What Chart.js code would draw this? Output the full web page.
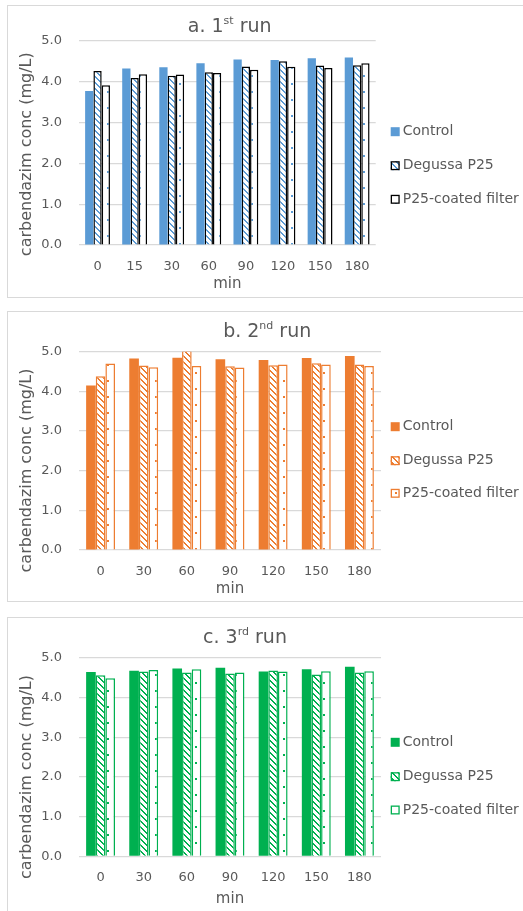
<!DOCTYPE html>
<html><head><meta charset="utf-8">
<script src="https://cdn.jsdelivr.net/npm/chart.js@4/dist/chart.umd.min.js"></script>
<style>
html,body{margin:0;padding:0;background:#fff;overflow:hidden;width:523px;height:911px;position:relative;}
.frame{position:absolute;left:7px;width:600px;border:1.5px solid #d9d9d9;box-sizing:border-box;}
canvas{position:absolute;left:0;}
</style></head><body>
<div class="frame" style="top:5px;height:292.5px"></div>
<div class="frame" style="top:310.5px;height:291.5px"></div>
<div class="frame" style="top:616.5px;height:400px"></div>
<canvas id="c1" width="523" height="297" style="top:0px"></canvas>
<canvas id="c2" width="523" height="297" style="top:305px"></canvas>
<canvas id="c3" width="523" height="297" style="top:615px"></canvas>
<script>
// ---- data ----
const seriesNames = ['Control', 'Degussa P25', 'P25-coated filter'];
const minutes1 = ['0', '15', '30', '60', '90', '120', '150', '180'];
const control1 = [3.77, 4.32, 4.35, 4.45, 4.54, 4.53, 4.57, 4.59];
const degussa1 = [4.26, 4.09, 4.14, 4.23, 4.37, 4.50, 4.39, 4.40];
const filter1  = [3.91, 4.18, 4.17, 4.21, 4.29, 4.36, 4.33, 4.45];

const minutes23 = ['0', '30', '60', '90', '120', '150', '180'];
const control2 = [4.15, 4.83, 4.85, 4.81, 4.79, 4.84, 4.89];
const degussa2 = [4.38, 4.65, 5.03, 4.63, 4.66, 4.71, 4.68];
const filter2  = [4.70, 4.61, 4.64, 4.60, 4.68, 4.68, 4.64];

const control3 = [4.64, 4.67, 4.73, 4.75, 4.65, 4.71, 4.77];
const degussa3 = [4.56, 4.65, 4.63, 4.60, 4.68, 4.58, 4.63];
const filter3  = [4.48, 4.69, 4.71, 4.63, 4.65, 4.66, 4.66];

const yMin = 0, yMax = 5, yStep = 1;
const titles = [['a. 1', 'st', ' run'], ['b. 2', 'nd', ' run'], ['c. 3', 'rd', ' run']];

// ---- styling helpers ----
const FONT = '"DejaVu Sans", Verdana, sans-serif';
const TXT = '#595959';
const GRID = '#d9d9d9';

function hatch(color) {
  const c = document.createElement('canvas'); c.width = 6; c.height = 6;
  const g = c.getContext('2d');
  g.fillStyle = '#fff'; g.fillRect(0, 0, 6, 6);
  g.fillStyle = color;
  for (let y = 0; y < 6; y++) for (let x = 0; x < 6; x++) {
    if ((((x - y) % 6) + 6) % 6 < 2) g.fillRect(x, y, 1, 1);
  }
  return g.createPattern(c, 'repeat');
}
function dots(color) {
  const c = document.createElement('canvas'); c.width = 16; c.height = 16;
  const g = c.getContext('2d');
  g.fillStyle = '#fff'; g.fillRect(0, 0, 16, 16);
  g.fillStyle = color;
  g.fillRect(3, 3, 2, 2); g.fillRect(11, 11, 2, 2);
  return g.createPattern(c, 'repeat');
}

const decor = {
  id: 'decor',
  afterDraw(chart, args, o) {
    const ctx = chart.ctx;
    ctx.save();
    // chart title with superscript
    const [a, s, b] = o.title;
    ctx.fillStyle = TXT;
    ctx.textBaseline = 'alphabetic';
    ctx.textAlign = 'left';
    const big = '19px ' + FONT, small = '11px ' + FONT;
    ctx.font = big; const wa = ctx.measureText(a).width, wb = ctx.measureText(b).width;
    ctx.font = small; const ws = ctx.measureText(s).width;
    let x = o.titleX - (wa + ws + wb) / 2;
    ctx.font = big; ctx.fillText(a, x, o.titleY); x += wa;
    ctx.font = small; ctx.fillText(s, x, o.titleY - 8); x += ws;
    ctx.font = big; ctx.fillText(b, x, o.titleY);
    // y axis title
    ctx.save();
    ctx.translate(o.yTitleX, o.yTitleY);
    ctx.rotate(-Math.PI / 2);
    ctx.textAlign = 'center'; ctx.textBaseline = 'middle';
    ctx.font = '16px ' + FONT;
    ctx.fillText('carbendazim conc (mg/L)', 0, 0);
    ctx.restore();
    // legend
    chart.data.datasets.forEach((ds, i) => {
      const y = o.legendY[i];
      ctx.fillStyle = ds.backgroundColor;
      ctx.fillRect(o.legX, y - 4.5, 9, 9);
      if (ds.borderWidth) {
        ctx.strokeStyle = ds.borderColor; ctx.lineWidth = 1.3;
        ctx.strokeRect(o.legX + 0.65, y - 3.85, 7.7, 7.7);
      }
      ctx.fillStyle = TXT;
      ctx.font = '14px ' + FONT;
      ctx.textAlign = 'left'; ctx.textBaseline = 'middle';
      ctx.fillText(ds.label, o.legX + 12, y);
    });
    ctx.restore();
  }
};

function makeChart(id, labels, ctrl, deg, fil, color, edge, geo) {
  const datasets = [
    { label: seriesNames[0], data: ctrl, backgroundColor: color, borderWidth: 0 },
    { label: seriesNames[1], data: deg, backgroundColor: hatch(color), borderColor: edge, borderWidth: 1.5 },
    { label: seriesNames[2], data: fil, backgroundColor: dots(color), borderColor: edge, borderWidth: 1.5 }
  ];
  datasets.forEach(d => { d.categoryPercentage = 0.67; d.barPercentage = 1.0; d.clip = 0; d.borderSkipped = 'start'; });
  return new Chart(document.getElementById(id), {
    type: 'bar',
    data: { labels, datasets },
    options: {
      responsive: false, animation: false, devicePixelRatio: 1,
      layout: { padding: { top: geo.top, right: geo.right, left: 0, bottom: 0 } },
      plugins: {
        legend: { display: false }, tooltip: { enabled: false }, title: { display: false },
        decor: geo.decor
      },
      scales: {
        x: {
          grid: { display: false, drawTicks: false },
          border: { display: false },
          ticks: { color: TXT, font: { family: FONT, size: 13 }, padding: 14, maxRotation: 0, autoSkip: false },
          title: { display: true, text: 'min', color: TXT, font: { family: FONT, size: 15 }, padding: { top: 0, bottom: 4.2 } },
          afterFit: s => { s.height = geo.xh; }
        },
        y: {
          min: yMin, max: yMax,
          grid: { color: GRID, lineWidth: 1.2, drawTicks: false },
          border: { display: false },
          ticks: { stepSize: yStep, color: TXT, font: { family: FONT, size: 13 }, padding: 17, callback: v => Number(v).toFixed(1) },
          afterFit: s => { s.width = 79; }
        }
      }
    },
    plugins: [decor]
  });
}

makeChart('c1', minutes1, control1, degussa1, filter1, '#5B9BD5', '#000000', {
  top: 40.7, right: 147.3, xh: 52,
  decor: { title: titles[0], titleX: 229.7, titleY: 31.7, yTitleX: 26.5, yTitleY: 154.2, legX: 390.7, legendY: [131.7, 165.7, 199.3] }
});
makeChart('c2', minutes23, control2, degussa2, filter2, '#ED7D31', '#ED7D31', {
  top: 46.7, right: 142, xh: 52,
  decor: { title: titles[1], titleX: 267.2, titleY: 32.3, yTitleX: 26.5, yTitleY: 165.5, legX: 390.7, legendY: [121.7, 155.7, 188.3] }
});
makeChart('c3', minutes23, control3, degussa3, filter3, '#00B050', '#00B050', {
  top: 42.7, right: 142, xh: 55.7,
  decor: { title: titles[2], titleX: 245, titleY: 28.3, yTitleX: 26.5, yTitleY: 162, legX: 390.7, legendY: [127.3, 161.7, 195] }
});
</script>
</body></html>
